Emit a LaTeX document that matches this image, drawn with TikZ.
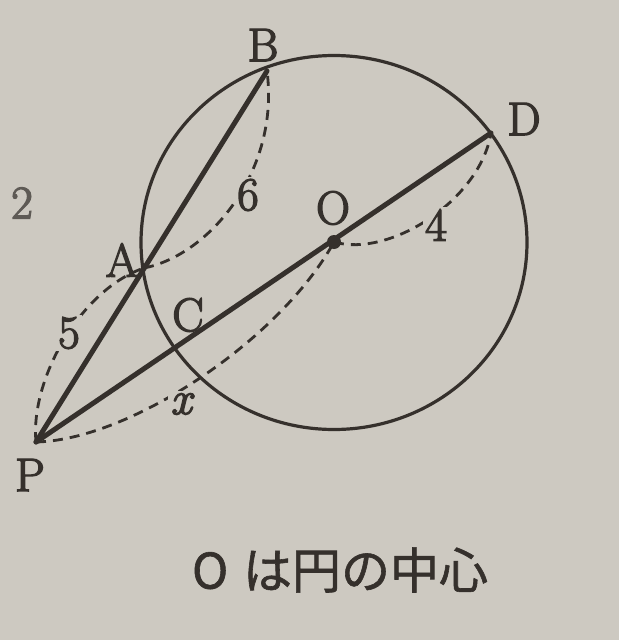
\documentclass[tikz,border=0pt]{standalone}
\usepackage{fontspec}
\newfontfamily\jpfont[FakeBold=1.2]{Noto Sans CJK JP}
\newfontfamily\lblfont[FakeBold=3]{Latin Modern Roman}
\definecolor{bgc}{HTML}{CDC9C1}
\definecolor{inkc}{HTML}{35302C}
\definecolor{faintc}{HTML}{5E5A55}
\begin{document}
\begin{tikzpicture}[x=1pt,y=-1pt,
  circline/.style={draw=inkc,line width=3.2pt},
  solidline/.style={draw=inkc,line width=5pt,line cap=round,line join=round},
  dashline/.style={draw=inkc,line width=2.8pt,dash pattern=on 10pt off 7pt},
  lbl/.style={text=inkc,font=\lblfont\fontsize{47}{47}\selectfont,inner sep=1pt},
  numlbl/.style={text=inkc,font=\lblfont\fontsize{47}{47}\selectfont,inner sep=2pt,fill=bgc},
  captionstyle/.style={text=inkc,font=\jpfont\fontsize{49}{49}\selectfont,inner sep=0pt}]
\fill[bgc] (0,0) rectangle (619,640);
\useasboundingbox (0,0) rectangle (619,640);
% points
\coordinate (Oc) at (334,242.5);
\coordinate (O) at (334,242);
\coordinate (P) at (36,442);
\coordinate (A) at (144,268);
\coordinate (B) at (267,71);
\coordinate (C) at (177,349);
\coordinate (D) at (491,133);
% circle (slightly elliptical in the photo)
\draw[circline] (Oc) ellipse [x radius=193pt, y radius=187pt];
% dashed measure arcs
\draw[dashline] (P) .. controls (30,380) and (80,290) .. (A);
\draw[dashline] (A) .. controls (210,255) and (280,170) .. (B);
\draw[dashline] (O) .. controls (390,258) and (480,200) .. (D);
\draw[dashline] (P) .. controls (130,440) and (280,340) .. (O);
% solid lines
\draw[solidline] (P) -- (B);
\draw[solidline] (P) -- (D);
\fill[inkc] (O) circle [radius=7pt];
% labels
\node[lbl] (lB) at (263,45) {B};
\node[lbl] (lD) at (524,119) {D};
\node[lbl] (lO) at (333,208) {O};
\node[lbl] (lA) at (122,260) {A};
\node[lbl] (lC) at (188,315) {C};
\node[lbl] (lP) at (30,475) {P};
\node[numlbl] (n5) at (69,333) {5};
\node[numlbl] (n6) at (248,195) {6};
\node[numlbl] (n4) at (436,225) {4};
\node[numlbl] (nx) at (181,404) {\itshape x};
\node[lbl,text=faintc] (side) at (22,203) {2};
\node[captionstyle] (caption) at (340,570) {O\hspace{0.3em}は円の中心};
\end{tikzpicture}
\end{document}
